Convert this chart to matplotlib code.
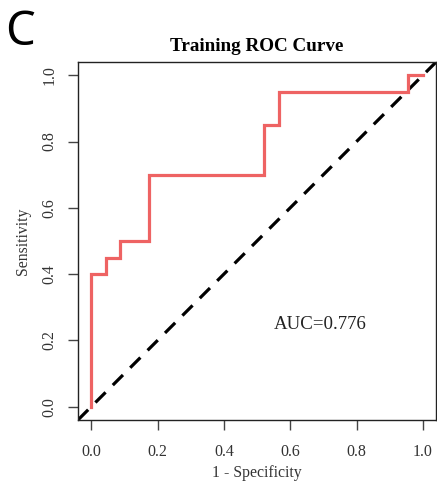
import matplotlib
matplotlib.use('Agg')
import matplotlib.pyplot as plt

# ROC curve points of the training set (23 negatives, 20 positives)
fpr = [0.0, 0.0, 1/23, 1/23, 2/23, 2/23, 4/23, 4/23, 12/23, 12/23,
       13/23, 13/23, 22/23, 22/23, 1.0]
tpr = [0.0, 0.40, 0.40, 0.45, 0.45, 0.50, 0.50, 0.70, 0.70, 0.85,
       0.85, 0.95, 0.95, 1.0, 1.0]
auc_value = 0.776
ticks = [0.0, 0.2, 0.4, 0.6, 0.8, 1.0]
tick_labels = ['0.0', '0.2', '0.4', '0.6', '0.8', '1.0']

serif = 'Liberation Serif'

fig = plt.figure(figsize=(4.37, 4.94), dpi=100)
ax = fig.add_axes([0.1785, 0.150, 0.8195, 0.7245])

ax.plot(fpr, tpr, color='#EE6363', linewidth=2.3, solid_joinstyle='miter',
        zorder=3)
ax.plot([-0.04, 1.04], [-0.04, 1.04], color='black', linewidth=2.3,
        linestyle=(0, (4.5, 3.2)), zorder=2, clip_on=True)

ax.set_xlim(-0.04, 1.04)
ax.set_ylim(-0.04, 1.04)
ax.set_xticks(ticks)
ax.set_xticklabels(tick_labels, fontfamily=serif, fontsize=11.5,
                   color='#333333')
ax.set_yticks(ticks)
ax.set_yticklabels(tick_labels, fontfamily=serif, fontsize=11.5,
                   color='#333333', rotation=90, va='center')
ax.tick_params(direction='out', length=7, width=1, color='#444444', pad=10)
ax.tick_params(axis='y', pad=8)
for sp in ax.spines.values():
    sp.set_linewidth(1.0)
    sp.set_color('#222222')

ax.set_xlabel('1 - Specificity', fontfamily=serif, fontsize=11.3,
              color='#333333', labelpad=4)
ax.set_ylabel('Sensitivity', fontfamily=serif, fontsize=11.3,
              color='#333333', labelpad=7)
ax.set_title('Training ROC Curve', fontfamily=serif, fontsize=13.8,
             fontweight='bold', pad=8)

ax.text(0.69, 0.247, f'AUC={auc_value:.3f}', fontfamily=serif, fontsize=13.6,
        ha='center', va='center', color='#222222')

fig.text(0.012, 0.909, 'C', fontfamily='Noto Sans', fontsize=34,
         ha='left', va='baseline')

fig.savefig('out.png', dpi=100)
